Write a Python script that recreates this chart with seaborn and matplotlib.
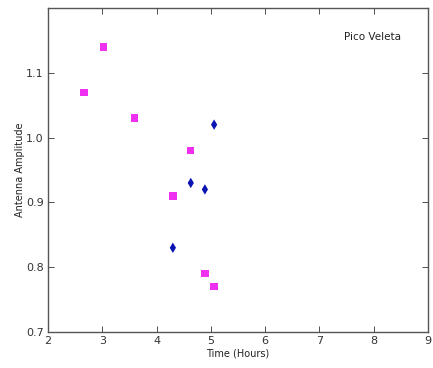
import matplotlib
matplotlib.use("Agg")
import matplotlib.pyplot as plt
import seaborn as sns
import pandas as pd

sq_time = [2.66, 3.02, 3.59, 4.30, 4.63, 4.89, 5.06]
sq_amp = [1.07, 1.14, 1.03, 0.91, 0.98, 0.79, 0.77]
dm_time = [4.30, 4.63, 4.89, 5.06]
dm_amp = [0.83, 0.93, 0.92, 1.02]
x_ticks = [2, 3, 4, 5, 6, 7, 8, 9]
y_ticks = [0.7, 0.8, 0.9, 1.0, 1.1]

df = pd.DataFrame({
    "time": sq_time + dm_time,
    "amp": sq_amp + dm_amp,
    "series": ["sq"] * len(sq_time) + ["dm"] * len(dm_time),
})

sns.set_style("ticks")
plt.rcParams["font.family"] = ["DejaVu Sans"]

fig = plt.figure(figsize=(4.33, 3.68), dpi=100)
ax = fig.add_axes([48 / 433, 1 - 332 / 368, 380 / 433, 324 / 368])

sns.scatterplot(data=df, x="time", y="amp", hue="series", style="series",
                palette={"sq": "#f030f0", "dm": "#0a14b4"},
                markers={"sq": "s", "dm": "d"},
                s=28, linewidth=0, legend=False, ax=ax)

ax.set_xlim(2, 9)
ax.set_ylim(0.7, 1.2)
ax.set_xticks(x_ticks)
ax.set_xticklabels([str(t) for t in x_ticks])
ax.set_yticks(y_ticks)
ax.set_yticklabels(["0.7", "0.8", "0.9", "1.0", "1.1"])
ax.tick_params(direction="in", top=True, right=True, length=4, width=0.6,
               labelsize=8, colors="#333333", pad=3)
for sp in ax.spines.values():
    sp.set_color("#555555")
    sp.set_linewidth(1.0)

ax.set_xlabel("Time (Hours)", fontsize=7, color="#222222", labelpad=2)
ax.set_ylabel("Antenna Amplitude", fontsize=7, color="#222222", labelpad=1)
ax.text(0.855, 0.91, "Pico Veleta", transform=ax.transAxes, ha="center",
        va="center", fontsize=7.5, color="#222222")

fig.savefig("out.png", dpi=100)
